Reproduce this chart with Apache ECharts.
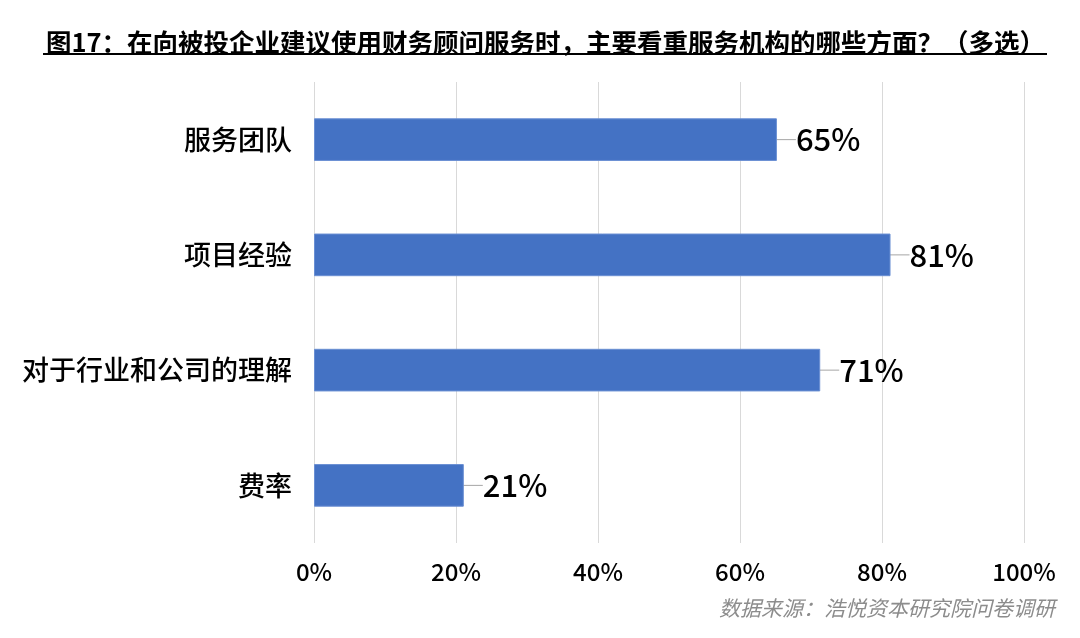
<!DOCTYPE html>
<html>
<head>
<meta charset="utf-8">
<script src="https://cdn.jsdelivr.net/npm/echarts@6/dist/echarts.min.js"></script>
<style>
html,body{margin:0;padding:0;background:#fff;}
#chart{width:1080px;height:638px;}
</style>
</head>
<body>
<div id="chart"></div>
<script>
const categories = ['服务团队', '项目经验', '对于行业和公司的理解', '费率'];
const values = [65.2, 81.2, 71.3, 21.1];
const xTicks = [0, 20, 40, 60, 80, 100];
const titleText = '图17：在向被投企业建议使用财务顾问服务时，主要看重服务机构的哪些方面？（多选）';
const sourceText = '数据来源：浩悦资本研究院问卷调研';

const FONT = '"Noto Sans CJK SC", "Noto Sans", sans-serif';
const chart = echarts.init(document.getElementById('chart'));
chart.setOption({
  backgroundColor: '#fff',
  animation: false,
  title: {
    text: titleText,
    left: 41,
    top: 25,
    textStyle: { fontFamily: FONT, fontSize: 25.5, fontWeight: 'bold', color: '#000' }
  },
  graphic: [
    { type: 'line', shape: { x1: 43, y1: 54, x2: 1047, y2: 54 }, style: { stroke: '#000', lineWidth: 2 } },
    { type: 'text', right: 25, top: 598, style: { text: sourceText, font: 'italic 21px ' + FONT, fill: '#8c8c8c' } }
  ],
  grid: { left: 314, right: 56, top: 82, bottom: 95, containLabel: false },
  xAxis: {
    type: 'value', min: 0, max: 100, interval: 20,
    axisLine: { show: false }, axisTick: { show: false },
    splitLine: { show: true, lineStyle: { color: '#d9d9d9', width: 1 } },
    axisLabel: { formatter: v => xTicks.includes(v) ? v + '%' : '', fontFamily: FONT, fontSize: 24, fontWeight: 500, color: '#000', margin: 17 }
  },
  yAxis: {
    type: 'category', data: categories, inverse: true,
    axisLine: { show: false }, axisTick: { show: false },
    axisLabel: { fontFamily: FONT, fontSize: 27, fontWeight: 500, color: '#000', margin: 22 }
  },
  series: [{
    type: 'bar',
    data: values,
    barCategoryGap: '63%',
    itemStyle: { color: '#4472C4', borderColor: '#6a8fd3', borderWidth: 1 },
    label: {
      show: true, position: 'right', distance: 4,
      formatter: p => Math.round(p.value) + '%',
      fontFamily: FONT, fontSize: 31, fontWeight: 500, color: '#000'
    },
    labelLayout: { dx: 15 },
    labelLine: { show: true, lineStyle: { color: '#a6a6a6', width: 1 } }
  }]
});
</script>
</body>
</html>
